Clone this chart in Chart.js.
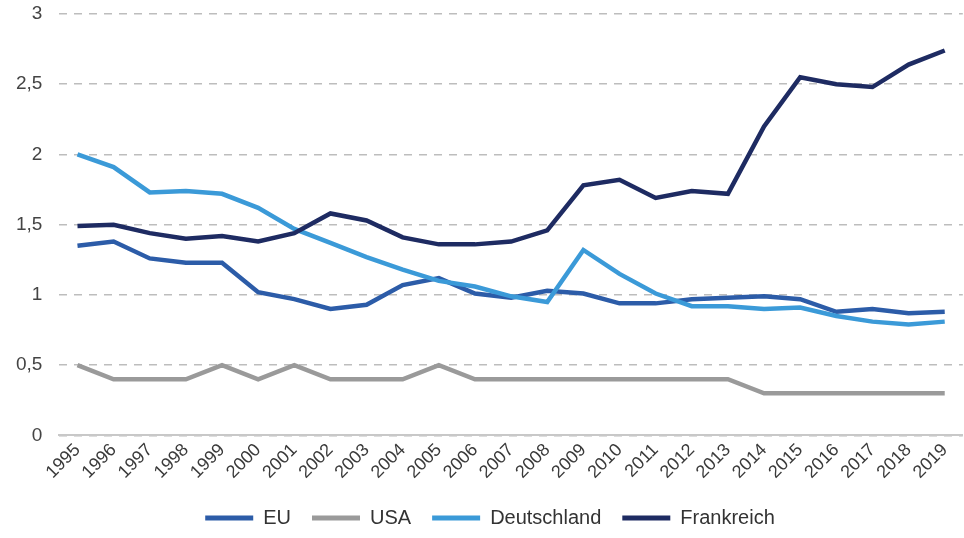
<!DOCTYPE html>
<html>
<head>
<meta charset="utf-8">
<script src="https://cdn.jsdelivr.net/npm/chart.js@4/dist/chart.umd.min.js"></script>
<style>
  html, body { margin: 0; padding: 0; background: #fff; }
  #wrap { width: 964px; height: 538px; }
</style>
</head>
<body>
<div id="wrap"><canvas id="chart"></canvas></div>
<script>
const years = ["1995","1996","1997","1998","1999","2000","2001","2002","2003","2004","2005","2006",
  "2007","2008","2009","2010","2011","2012","2013","2014","2015","2016","2017","2018","2019"];

const eu = [1.35,1.38,1.26,1.23,1.23,1.02,0.97,0.90,0.93,1.07,1.12,1.01,
  0.98,1.03,1.01,0.94,0.94,0.97,0.98,0.99,0.97,0.88,0.90,0.87,0.88];
const usa = [0.5,0.4,0.4,0.4,0.5,0.4,0.5,0.4,0.4,0.4,0.5,0.4,
  0.4,0.4,0.4,0.4,0.4,0.4,0.4,0.3,0.3,0.3,0.3,0.3,0.3];
const deutschland = [2.0,1.91,1.73,1.74,1.72,1.62,1.47,1.37,1.27,1.18,1.10,1.06,
  0.99,0.95,1.32,1.15,1.01,0.92,0.92,0.90,0.91,0.85,0.81,0.79,0.81];
const frankreich = [1.49,1.50,1.44,1.40,1.42,1.38,1.44,1.58,1.53,1.41,1.36,1.36,
  1.38,1.46,1.78,1.82,1.69,1.74,1.72,2.20,2.55,2.50,2.48,2.64,2.74];

const yTicks = [0, 0.5, 1, 1.5, 2, 2.5, 3];

const FONT = 'Liberation Sans, Arial, sans-serif';

function line(label, data, color, order) {
  return {
    label: label,
    data: data,
    borderColor: color,
    backgroundColor: color,
    borderWidth: 4.5,
    pointRadius: 0,
    tension: 0,
    order: order
  };
}

new Chart(document.getElementById("chart"), {
  type: 'line',
  data: {
    labels: years,
    datasets: [
      line("EU", eu, "#2c5ca8", 2),
      line("USA", usa, "#9a9a9a", 3),
      line("Deutschland", deutschland, "#3b9ad8", 1),
      line("Frankreich", frankreich, "#1e2b62", 0)
    ]
  },
  options: {
    responsive: true,
    maintainAspectRatio: false,
    animation: false,
    layout: { padding: { top: 14, right: 0, left: 16, bottom: 0 } },
    plugins: {
      tooltip: { enabled: false },
      legend: {
        position: 'bottom',
        labels: {
          boxWidth: 48,
          boxHeight: 5,
          padding: 21,
          color: '#333',
          font: { family: FONT, size: 20 },
          sort: function (a, b) { return a.datasetIndex - b.datasetIndex; },
          generateLabels: function (chart) {
            return Chart.defaults.plugins.legend.labels.generateLabels(chart)
              .map(function (l) { l.lineWidth = 0; return l; });
          }
        }
      }
    },
    scales: {
      x: {
        offset: true,
        grid: { display: false, drawTicks: false },
        border: { display: true, color: '#c8c8c8', width: 2 },
        ticks: {
          autoSkip: false,
          maxRotation: 45,
          minRotation: 45,
          padding: 4,
          color: '#3a3a3a',
          font: { family: FONT, size: 18 }
        }
      },
      y: {
        min: 0,
        max: 3,
        afterBuildTicks: function (axis) {
          axis.ticks = yTicks.map(function (v) { return { value: v }; });
        },
        // invisible tick marks keep the labels away from the plot area
        grid: { color: '#bdbdbd', lineWidth: 1.5, drawTicks: true, tickLength: 17, tickColor: 'rgba(0,0,0,0)' },
        border: { display: false, dash: [8, 7] },
        ticks: {
          padding: 0,
          color: '#444',
          font: { family: FONT, size: 19 },
          callback: function (v) { return String(v).replace('.', ','); }
        }
      }
    }
  }
});
</script>
</body>
</html>
